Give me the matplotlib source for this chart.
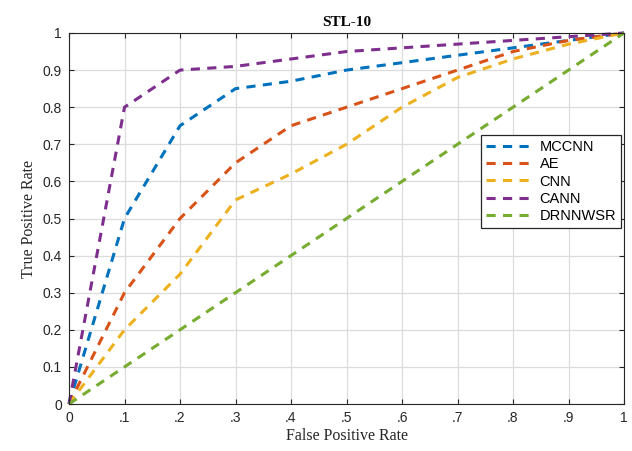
import matplotlib
matplotlib.use("Agg")
import matplotlib.pyplot as plt

fpr = [0, 0.1, 0.2, 0.3, 0.4, 0.5, 0.6, 0.7, 0.8, 0.9, 1.0]
tpr_mccnn = [0, 0.50, 0.75, 0.85, 0.87, 0.90, 0.92, 0.94, 0.96, 0.98, 1.0]
tpr_ae = [0, 0.30, 0.50, 0.65, 0.75, 0.80, 0.85, 0.90, 0.95, 0.98, 1.0]
tpr_cnn = [0, 0.20, 0.35, 0.55, 0.62, 0.70, 0.80, 0.88, 0.93, 0.97, 1.0]
tpr_cann = [0, 0.80, 0.90, 0.91, 0.93, 0.95, 0.96, 0.97, 0.98, 0.99, 1.0]
tpr_drnn = [0, 0.10, 0.20, 0.30, 0.40, 0.50, 0.60, 0.70, 0.80, 0.90, 1.0]

series = [
    ("MCCNN", tpr_mccnn, "#0072BD"),
    ("AE", tpr_ae, "#D95319"),
    ("CNN", tpr_cnn, "#EDB120"),
    ("CANN", tpr_cann, "#7E2F8E"),
    ("DRNNWSR", tpr_drnn, "#77AC30"),
]

xtick_vals = [0, 0.1, 0.2, 0.3, 0.4, 0.5, 0.6, 0.7, 0.8, 0.9, 1.0]
xtick_labels = ["0", ".1", ".2", ".3", ".4", ".5", ".6", ".7", ".8", ".9", "1"]
ytick_vals = [0, 0.1, 0.2, 0.3, 0.4, 0.5, 0.6, 0.7, 0.8, 0.9, 1.0]
ytick_labels = ["0", "0.1", "0.2", "0.3", "0.4", "0.5", "0.6", "0.7", "0.8", "0.9", "1"]

fig = plt.figure(figsize=(6.32, 4.51), dpi=100)
ax = fig.add_axes([69/632, 1-404/451, (624-69)/632, (404-33)/451])

for name, y, c in series:
    ax.plot(fpr, y, linestyle=(0, (3.0, 2.4)), color=c, linewidth=2.2,
            dash_capstyle="butt", label=name, clip_on=False)

ax.set_xlim(0, 1)
ax.set_ylim(0, 1)
ax.set_xticks(xtick_vals)
ax.set_xticklabels(xtick_labels)
ax.set_yticks(ytick_vals)
ax.set_yticklabels(ytick_labels)
ax.grid(True, color="#dcdcdc", linewidth=0.9)
ax.set_axisbelow(True)
ax.tick_params(direction="in", top=True, right=True, length=3.5, width=0.8,
               colors="#262626", labelsize=10, pad=5)
for lab in ax.get_xticklabels() + ax.get_yticklabels():
    lab.set_fontfamily("Liberation Sans")
for sp in ax.spines.values():
    sp.set_color("#262626")
    sp.set_linewidth(0.8)

ax.set_xlabel("False Positive Rate", family="Liberation Serif", fontsize=11.5,
              color="#262626", labelpad=2)
ax.set_ylabel("True Positive Rate", family="Liberation Serif", fontsize=11.5,
              color="#262626", labelpad=4)
ax.set_title("STL-10", family="Liberation Serif", fontsize=11, fontweight="bold",
             color="#000000", pad=5)

leg = ax.legend(loc="upper right", bbox_to_anchor=(0.995, 0.725),
                prop={"family": "Liberation Sans", "size": 10.5},
                fancybox=False, framealpha=1, edgecolor="#262626",
                handlelength=3.2, handletextpad=0.45, labelspacing=0.22,
                borderpad=0.35, borderaxespad=0)
leg.get_frame().set_linewidth(0.9)

fig.savefig("out.png", dpi=100)
